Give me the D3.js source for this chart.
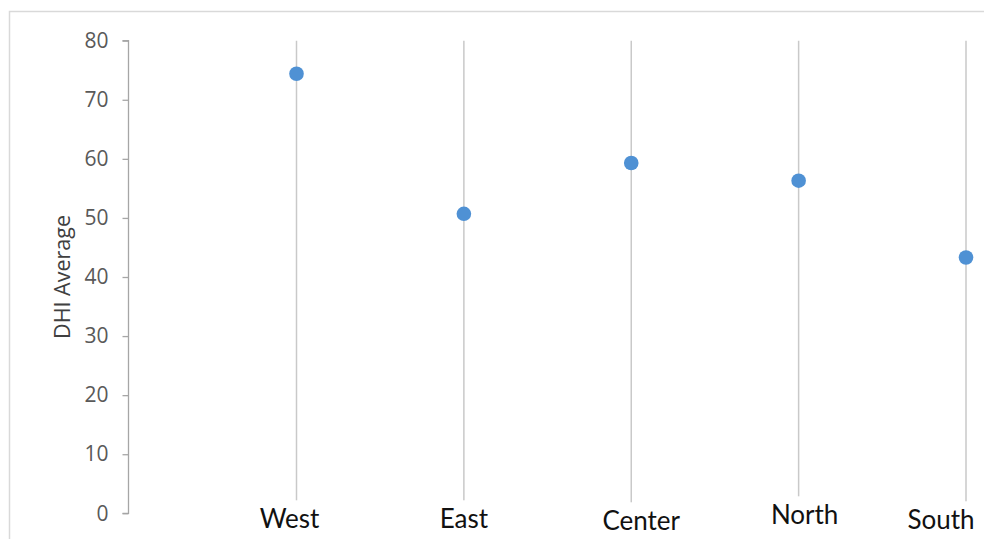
<!DOCTYPE html>
<html>
<head>
<meta charset="utf-8">
<script src="https://cdn.jsdelivr.net/npm/d3@7"></script>
<style>
  html, body { margin: 0; padding: 0; background: #fff; }
  svg { display: block; }
</style>
</head>
<body>
<svg id="chart" width="984" height="539"></svg>
<script>
// ---- data ----
const categories = ["West", "East", "Center", "North", "South"];
const dhiAverage = [74.4, 50.7, 59.3, 56.3, 43.3];
const yTicks = [0, 10, 20, 30, 40, 50, 60, 70, 80];
const yTitle = "DHI Average";

// ---- label nudges (layout only) ----
const labelDx = [-7, 0, 10, 6, -25];
const labelDy = [15, 15, 17, 11, 16];

const svg = d3.select("#chart");

// outer frame
svg.append("path")
  .attr("d", "M9.5,539 V11.5 H984")
  .attr("fill", "none")
  .attr("stroke", "#d9d9d9")
  .attr("stroke-width", 1.5);

const x = d3.scalePoint().domain(categories).range([296.5, 966]);
const y = d3.scaleLinear().domain([0, 80]).range([513.3, 40.7]);

// drop lines
svg.append("g").selectAll("line")
  .data(categories)
  .join("line")
  .attr("x1", d => x(d)).attr("x2", d => x(d))
  .attr("y1", y(80)).attr("y2", y(0))
  .attr("stroke", "#c9c9c9")
  .attr("stroke-width", 1.5);

// y axis
const yAxis = d3.axisLeft(y).tickValues(yTicks).tickSize(6).tickPadding(14);
const gy = svg.append("g")
  .attr("transform", "translate(128.5,0)")
  .call(yAxis);
gy.select(".domain").attr("stroke", "#a6a6a6").attr("stroke-width", 1.3)
  .attr("d", `M-6,${y(80)}H0V${y(0)}H-6`);
gy.selectAll(".tick line").attr("stroke", "#a6a6a6").attr("stroke-width", 1.3);
gy.selectAll(".tick text")
  .attr("fill", "#595959")
  .attr("font-family", "'Open Sans', sans-serif")
  .attr("font-size", 21);

// y title
svg.append("text")
  .attr("transform", `translate(70,${(y(80) + y(0)) / 2}) rotate(-90)`)
  .attr("text-anchor", "middle")
  .attr("fill", "#404040")
  .attr("font-family", "'Open Sans', sans-serif")
  .attr("font-size", 21.5)
  .text(yTitle);

// category labels with white backing
const lg = svg.append("g").selectAll("g")
  .data(categories)
  .join("g")
  .attr("transform", (d, i) => `translate(${x(d) + labelDx[i]},${y(0) + labelDy[i]})`);
lg.append("text")
  .attr("text-anchor", "middle")
  .attr("fill", "#111")
  .attr("font-family", "Lato, 'Open Sans', sans-serif")
  .attr("font-size", 26)
  .text(d => d)
  .each(function() {
    const b = this.getBBox();
    d3.select(this.parentNode).insert("rect", "text")
      .attr("x", b.x - 2).attr("y", b.y - 2)
      .attr("width", b.width + 4).attr("height", b.height + 4)
      .attr("fill", "#fff");
  });

// points
svg.append("g").selectAll("circle")
  .data(categories)
  .join("circle")
  .attr("cx", d => x(d))
  .attr("cy", (d, i) => y(dhiAverage[i]))
  .attr("r", 7.3)
  .attr("fill", "#4f91d4");
</script>
</body>
</html>
